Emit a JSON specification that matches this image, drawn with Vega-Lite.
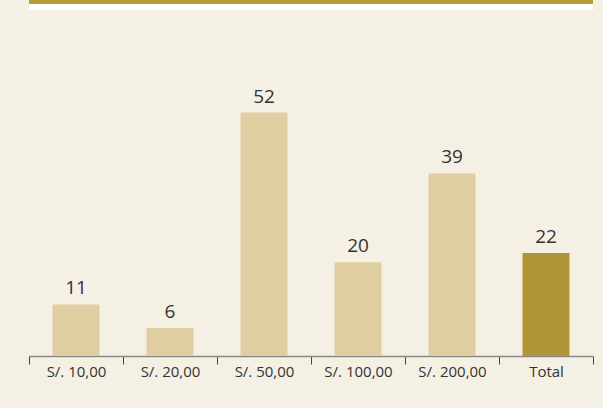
{
  "$schema": "https://vega.github.io/schema/vega-lite/v6.json",
  "width": 564,
  "height": 354,
  "padding": {"left": 29, "top": 2, "right": 10, "bottom": 52},
  "autosize": {"type": "none"},
  "background": "#f5f0e4",
  "config": {"view": {"stroke": null}, "font": "Open Sans"},
  "data": {"values": [
    {"cat": "S/. 10,00", "v": 11, "total": "no"},
    {"cat": "S/. 20,00", "v": 6, "total": "no"},
    {"cat": "S/. 50,00", "v": 52, "total": "no"},
    {"cat": "S/. 100,00", "v": 20, "total": "no"},
    {"cat": "S/. 200,00", "v": 39, "total": "no"},
    {"cat": "Total", "v": 22, "total": "yes"}
  ]},
  "layer": [
    {
      "mark": {"type": "bar", "width": {"band": 0.5}},
      "encoding": {
        "x": {"field": "cat", "type": "nominal", "sort": null,
          "scale": {"paddingInner": 0, "paddingOuter": 0},
          "axis": {"title": null, "labelAngle": 0, "tickBand": "extent", "domainColor": "#888888", "domainWidth": 1.5,
            "tickColor": "#444444", "tickSize": 8, "tickWidth": 1, "labelFontSize": 15, "labelColor": "#333333", "labelPadding": 0}},
        "y": {"field": "v", "type": "quantitative", "axis": null, "scale": {"domain": [0, 75.6], "nice": false}},
        "color": {"field": "total", "type": "nominal", "legend": null,
          "scale": {"domain": ["no", "yes"], "range": ["#e0cea0", "#b09438"]}}
      }
    },
    {
      "mark": {"type": "text", "baseline": "bottom", "dy": -6, "fontSize": 19, "color": "#333333"},
      "encoding": {
        "x": {"field": "cat", "type": "nominal", "sort": null},
        "y": {"field": "v", "type": "quantitative"},
        "text": {"field": "v", "type": "quantitative"}
      }
    },
    {
      "mark": {"type": "rule", "color": "#ffffff", "strokeWidth": 8},
      "encoding": {
        "y": {"datum": 74.75, "type": "quantitative"}
      }
    },
    {
      "mark": {"type": "rule", "color": "#b69a3a", "strokeWidth": 3},
      "encoding": {
        "y": {"datum": 75.6, "type": "quantitative"}
      }
    }
  ]
}
